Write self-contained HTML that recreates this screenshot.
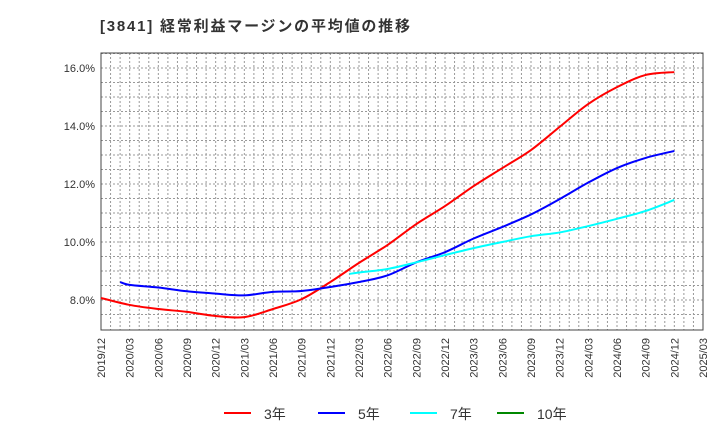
<!DOCTYPE html>
<html><head><meta charset="utf-8"><style>
body{margin:0;background:#fff;font-family:"Liberation Sans","Noto Sans CJK JP",sans-serif;}
</style></head><body>
<svg width="720" height="440" xmlns="http://www.w3.org/2000/svg" font-family="Liberation Sans, Noto Sans CJK JP, sans-serif">
<text x="100" y="31" font-size="15" font-weight="bold" fill="#333" textLength="310" lengthAdjust="spacing">[3841]  経常利益マージンの平均値の推移</text>
<g id="grid"></g>
<rect x="101" y="53" width="602" height="277" fill="none" stroke="#444" stroke-width="1"/>
<g id="series"></g>
<g id="axes"></g>
<g id="legend"></g>
</svg>
<script>
const xLabels=["2019/12","2020/03","2020/06","2020/09","2020/12","2021/03","2021/06","2021/09","2021/12","2022/03","2022/06","2022/09","2022/12","2023/03","2023/06","2023/09","2023/12","2024/03","2024/06","2024/09","2024/12","2025/03"];
const yTicks=[8,10,12,14,16];
const s3Months=[0,3,6,9,12,15,18,21,24,27,30,33,36,39,42,45,48,51,54,57,60];
const s3=[8.07,7.83,7.69,7.59,7.45,7.41,7.69,8.03,8.62,9.28,9.9,10.62,11.24,11.93,12.55,13.17,13.97,14.76,15.34,15.76,15.86];
const s5Months=[2,3,6,9,12,15,18,21,24,27,30,33,36,39,42,45,48,51,54,57,60];
const s5=[8.62,8.52,8.43,8.3,8.22,8.16,8.28,8.31,8.45,8.62,8.85,9.3,9.65,10.12,10.52,10.95,11.48,12.05,12.55,12.9,13.14];
const s7Months=[26,27,30,33,36,39,42,45,48,51,54,57,60];
const s7=[8.9,8.95,9.07,9.3,9.55,9.79,10.0,10.2,10.33,10.55,10.8,11.07,11.45];
const NS="http://www.w3.org/2000/svg";
const X0=101,X1=703,Y0=330,Y1=53,MONTHS=63;
const xs=m=>X0+(X1-X0)*m/MONTHS;
const ys=v=>300-(v-8)*29;
function mk(tag,attrs,parent){const e=document.createElementNS(NS,tag);for(const k in attrs)e.setAttribute(k,attrs[k]);parent.appendChild(e);return e;}
const grid=document.getElementById('grid'),axes=document.getElementById('axes'),ser=document.getElementById('series'),leg=document.getElementById('legend');
for(let m=1;m<MONTHS;m++){const l=mk('line',{x1:xs(m),x2:xs(m),y1:Y1,y2:Y0,stroke:'#999','stroke-width':1,'stroke-dasharray':'2,2'},grid);

}
for(let v=7.5;v<16.6;v+=0.5){const y=ys(v);if(y<Y1||y>Y0)continue;const l=mk('line',{x1:X0,x2:X1,y1:y,y2:y,stroke:'#999','stroke-width':1,'stroke-dasharray':'2,2'},grid);

}
yTicks.forEach(v=>{const t=mk('text',{x:95,y:ys(v)+4,'text-anchor':'end','font-size':11,fill:'#333'},axes);t.textContent=v.toFixed(1)+'%';

});
xLabels.forEach((s,i)=>{const x=xs(i*3);const t=mk('text',{transform:`translate(${x+4},${Y0+8}) rotate(-90)`,'text-anchor':'end','font-size':11,fill:'#333'},axes);t.textContent=s;

});
function smooth(pts){let d=`M${pts[0][0]},${pts[0][1]}`;for(let i=0;i<pts.length-1;i++){const p0=pts[i-1]||pts[i],p1=pts[i],p2=pts[i+1],p3=pts[i+2]||p2;
d+=` C${p1[0]+(p2[0]-p0[0])/6},${p1[1]+(p2[1]-p0[1])/6} ${p2[0]-(p3[0]-p1[0])/6},${p2[1]-(p3[1]-p1[1])/6} ${p2[0]},${p2[1]}`;}return d;}
function draw(months,vals,color,name){const pts=months.map((m,i)=>[xs(m),ys(vals[i])]);const p=mk('path',{d:smooth(pts),fill:'none',stroke:color,'stroke-width':2},ser);

}
draw(s3Months,s3,'#f00','line-3y');
draw(s5Months,s5,'#00f','line-5y');
draw(s7Months,s7,'#0ff','line-7y');
[["3年","#f00",224],["5年","#00f",318],["7年","#0ff",410],["10年","#080",497]].forEach(([lab,c,x])=>{
const l=mk('line',{x1:x,x2:x+27,y1:413,y2:413,stroke:c,'stroke-width':2},leg);


const t=mk('text',{x:x+40,y:419,'font-size':14,fill:'#333'},leg);t.textContent=lab;

});
</script>
</body></html>
